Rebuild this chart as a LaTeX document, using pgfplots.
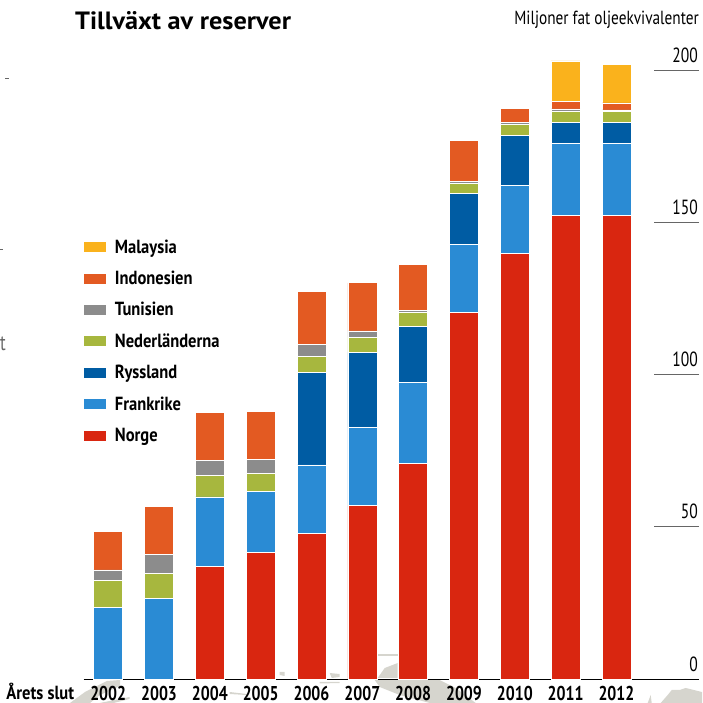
\documentclass[border=0pt]{standalone}
\usepackage{pgfplots}
\usepackage{pgfplotstable}
\pgfplotsset{compat=1.18}
\usepackage{fontspec}
\setmainfont{PT Sans}
\newfontfamily\cond[FakeStretch=0.76]{PT Sans}
\newfontfamily\condm[FakeStretch=0.805]{PT Sans}
\newfontfamily\condy[FakeStretch=0.79]{PT Sans}
\newfontfamily\condb[FakeStretch=0.87]{PT Sans}
\newfontfamily\tfont[FakeStretch=1.05]{PT Sans}
\definecolor{cNor}{HTML}{D92610}
\definecolor{cFra}{HTML}{2A8BD4}
\definecolor{cRys}{HTML}{005CA3}
\definecolor{cNed}{HTML}{A7B73E}
\definecolor{cTun}{HTML}{8C8C8C}
\definecolor{cIdo}{HTML}{E35A22}
\definecolor{cMal}{HTML}{FAB21C}
\definecolor{cMap}{HTML}{D6D5CE}
% increments, million barrels of oil equivalent
\pgfplotstableread{
year Norge Frankrike Ryssland Nederlanderna Tunisien Indonesien Malaysia
2002 0     23.5 0    8.9  3.4 12.7 0
2003 0     26.5 0    8.2  6.2 15.8 0
2004 36.9  22.9 0    7.0  5.1 15.6 0
2005 41.6  20.0 0    5.9  4.7 15.8 0
2006 47.8  22.5 30.4 5.3  3.9 17.5 0
2007 57.0  25.6 24.7 4.9  2.1 15.8 0
2008 70.9  26.5 18.3 4.6  0.8 15.0 0
2009 120.5 22.2 16.7 3.4  0.5 13.7 0
2010 139.7 22.4 16.5 3.6  0.7 4.4  0
2011 152.3 23.6 6.8  3.6  0.9 2.6  13.2
2012 152.3 23.6 6.8  3.6  0.6 2.3  12.5
}\reserves
\begin{document}
\begin{tikzpicture}[x=1pt,y=1pt]
\useasboundingbox (-83.7,-24) rectangle (618.3,679);
% background map fragments
\begin{scope}[cMap]
\fill (-13.7,-24) -- (1.3,-13) -- (23.3,-2) -- (36.3,-1) -- (36.3,-7) -- (16.3,-16) -- (6.3,-24) -- cycle;
\fill (16,-24) -- (46,-18) -- (46,-20) -- (30,-24) -- cycle;
\fill (146,-13) -- (163,-15) -- (163,-16) -- (146,-15) -- cycle;
\fill (196,7) -- (201,7) -- (201,3) -- (196,4) -- cycle;
\fill (236,-3) -- (256,-3) -- (256,-4) -- (236,-4.5) -- cycle;
\fill (246,6) -- (256,5) -- (256,2) -- (248,1) -- cycle;
\fill (293.5,24.5) rectangle (314.5,23);
\fill (294,1) -- (301,11) -- (314,16) -- (314,1) -- cycle;
\fill (291,-1) -- (356,-1) -- (372,-9) -- (392,-24) -- (346,-24) -- (316,-16) -- (296,-8) -- cycle;
\fill (564,-24) -- (567,-16) -- (568,-24) -- cycle;
\fill (577,-24) -- (584,-16) -- (588,-11) -- (596,-11) -- (602,-9) -- (618.3,-13) -- (618.3,-24) -- cycle;
\end{scope}
\begin{axis}[
  at={(0,0)}, anchor=origin,
  scale only axis, width=615.3pt, height=609pt,
  xmin=2001.518, xmax=2013.623, ymin=0, ymax=200,
  ybar stacked, bar width=29pt,
  axis y line=right, axis x line=bottom,
  axis line style={-},
  x axis line style={black,line width=1pt},
  y axis line style={draw=none},
  xtick={2002,...,2012},
  ytick={0,50,100,150,200},
  major tick length=45pt,
  tick align=inside,
  x tick style={draw=none},
  y tick style={draw=black!60!white,line width=0.9pt},
  /pgf/number format/assume math mode=true,
  /pgf/number format/1000 sep={},
  xticklabel style={font=\condy\bfseries\fontsize{20}{21}\selectfont,anchor=base,yshift=-21pt,inner sep=0pt},
  yticklabel style={font=\cond\fontsize{20.5}{21}\selectfont,anchor=south east,inner sep=0pt,xshift=-1pt,yshift=7.5pt},
  clip=false,
  reverse legend,
  legend style={draw=none,fill=none,at={(axis cs:2001.518,145)},anchor=north west,
    font=\condb\bfseries\fontsize{19}{20}\selectfont,
    row sep=12.4pt, inner xsep=0pt, inner ysep=0pt,
    /tikz/every odd column/.style={column sep=7pt}},
  legend cell align=left,
  legend image code/.code={\fill[#1,draw=none] (0pt,-5pt) rectangle (22pt,5pt);},
  every axis plot/.append style={draw=white,line width=0.7pt},
]
\addplot[fill=cNor,draw=white] table[x=year,y=Norge]{\reserves};
\addplot[fill=cFra,draw=white] table[x=year,y=Frankrike]{\reserves};
\addplot[fill=cRys,draw=white] table[x=year,y=Ryssland]{\reserves};
\addplot[fill=cNed,draw=white] table[x=year,y=Nederlanderna]{\reserves};
\addplot[fill=cTun,draw=white] table[x=year,y=Tunisien]{\reserves};
\addplot[fill=cIdo,draw=white] table[x=year,y=Indonesien]{\reserves};
\addplot[fill=cMal,draw=white] table[x=year,y=Malaysia]{\reserves};
\legend{Norge,Frankrike,Ryssland,Nederländerna,Tunisien,Indonesien,Malaysia}
\end{axis}
\node[anchor=base west,inner sep=0pt,font=\tfont\bfseries\fontsize{25}{27}\selectfont] at (-8.7,649) {Tillväxt av reserver};
\node[anchor=base east,inner sep=0pt,font=\condm\fontsize{19}{20}\selectfont] at (615.3,654) {Miljoner fat oljeekvivalenter};
\node[anchor=base west,inner sep=0pt,font=\condb\bfseries\fontsize{19}{20}\selectfont] at (-77.5,-21) {Årets slut};
\node[anchor=base west,inner sep=0pt,text=black!60,font=\cond\fontsize{22}{22}\selectfont] at (-83.7,328) {t};
\fill[black!60] (-79,599.5) rectangle (-75,600.5);
\fill[black!60] (-83.7,428.5) rectangle (-81,429.5);
\end{tikzpicture}
\end{document}
